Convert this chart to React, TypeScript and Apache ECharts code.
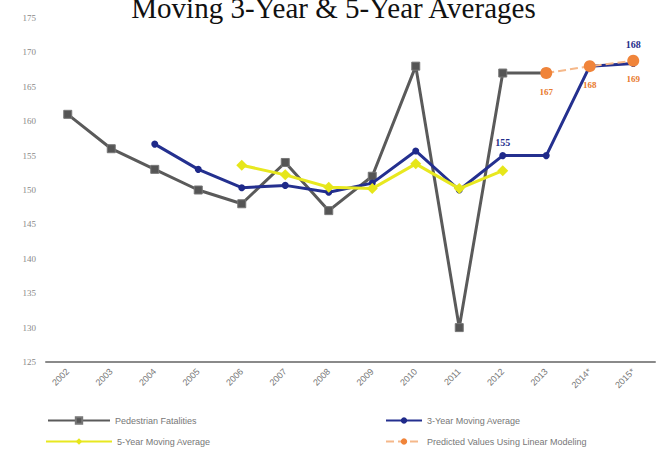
import React, { useEffect, useRef } from "react";
import * as echarts from "echarts";

const years = ["2002", "2003", "2004", "2005", "2006", "2007", "2008", "2009", "2010", "2011", "2012", "2013", "2014*", "2015*"];
const pedestrianFatalities = [161, 156, 153, 150, 148, 154, 147, 152, 168, 130, 167, 167, null, null];
const threeYearAvg = [null, null, 156.67, 153, 150.33, 150.67, 149.67, 151, 155.67, 150, 155, 155, 168, 168.4];
const fiveYearAvg = [null, null, null, null, 153.6, 152.2, 150.4, 150.2, 153.8, 150.2, 152.8, null, null, null];
const predicted = [null, null, null, null, null, null, null, null, null, null, null, 167, 168, 168.8];
const predictedLabels = ["", "", "", "", "", "", "", "", "", "", "", "167", "168", "169"];
const threeYearLabels: Record<number, string> = { 10: "155", 13: "168" };
const yTicks = { min: 125, max: 175, interval: 5 };

export default function App() {
  const ref = useRef<HTMLDivElement>(null);
  useEffect(() => {
    if (!ref.current) return;
    const chart = echarts.init(ref.current, null, { renderer: "svg" });
    const legendText = { color: "#777", fontSize: 9, fontFamily: "Liberation Sans" };
    chart.setOption({
      animation: false,
      backgroundColor: "#fff",
      title: {
        text: "Moving 3-Year & 5-Year Averages",
        left: "center",
        top: -12,
        textStyle: { fontFamily: "Liberation Serif", fontSize: 29, fontWeight: "normal", color: "#111" },
      },
      grid: { left: 46, right: 12, top: 18, bottom: 93 },
      legend: [
        { data: ["Pedestrian Fatalities"], left: 42, top: 411, itemWidth: 62, itemHeight: 8, itemGap: 2, textStyle: legendText },
        { data: ["3-Year Moving Average"], left: 380, top: 411, itemWidth: 36, itemHeight: 8, textStyle: legendText },
        { data: ["5-Year Moving Average"], left: 40, top: 432, itemWidth: 66, itemHeight: 8, textStyle: legendText },
        { data: ["Predicted Values Using Linear Modeling"], left: 380, top: 432, itemWidth: 36, itemHeight: 8, textStyle: legendText },
      ],
      xAxis: {
        type: "category",
        data: years,
        boundaryGap: true,
        axisLine: { lineStyle: { color: "#8a8a8a", width: 2 } },
        axisTick: { show: false },
        axisLabel: { rotate: 45, color: "#777", fontSize: 9, fontFamily: "Liberation Sans", margin: 8 },
      },
      yAxis: {
        type: "value",
        min: yTicks.min,
        max: yTicks.max,
        interval: yTicks.interval,
        axisLine: { show: false },
        axisTick: { show: false },
        splitLine: { show: false },
        axisLabel: { color: "#888", fontSize: 9, fontFamily: "Liberation Serif", margin: 10 },
      },
      series: [
        {
          name: "Pedestrian Fatalities",
          type: "line",
          data: pedestrianFatalities,
          connectNulls: false,
          symbol: "rect",
          symbolSize: 8,
          lineStyle: { color: "#5a5a5a", width: 3 },
          itemStyle: { color: "#555", borderColor: "#777", borderWidth: 1 },
          z: 2,
        },
        {
          name: "3-Year Moving Average",
          type: "line",
          data: threeYearAvg.map((v, i) =>
            threeYearLabels[i] !== undefined
              ? {
                  value: v,
                  label: {
                    show: true,
                    position: "top",
                    formatter: threeYearLabels[i],
                    color: "#1f2d8a",
                    fontSize: 10,
                    fontWeight: "bold",
                    fontFamily: "Liberation Serif",
                    distance: i === 13 ? 10 : 5,
                  },
                }
              : v
          ),
          symbol: "circle",
          symbolSize: 7,
          lineStyle: { color: "#24308f", width: 3 },
          itemStyle: { color: "#1f2a8a" },
          z: 3,
        },
        {
          name: "5-Year Moving Average",
          type: "line",
          data: fiveYearAvg,
          symbol: "diamond",
          symbolSize: 11,
          lineStyle: { color: "#e8e820", width: 3 },
          itemStyle: { color: "#e6e61a" },
          z: 4,
        },
        {
          name: "Predicted Values Using Linear Modeling",
          type: "line",
          data: predicted,
          symbol: "circle",
          symbolSize: 12,
          lineStyle: { color: "#f5b88a", width: 2, type: "dashed" },
          itemStyle: { color: "#f0843a" },
          label: {
            show: true,
            position: "bottom",
            distance: 8,
            formatter: (p: any) => predictedLabels[p.dataIndex],
            color: "#e87a2c",
            fontSize: 9,
            fontWeight: "bold",
            fontFamily: "Liberation Serif",
          },
          z: 5,
        },
      ],
    });
    return () => chart.dispose();
  }, []);
  return <div ref={ref} style={{ width: 667, height: 455, position: "absolute", left: 0, top: 0 }} />;
}
